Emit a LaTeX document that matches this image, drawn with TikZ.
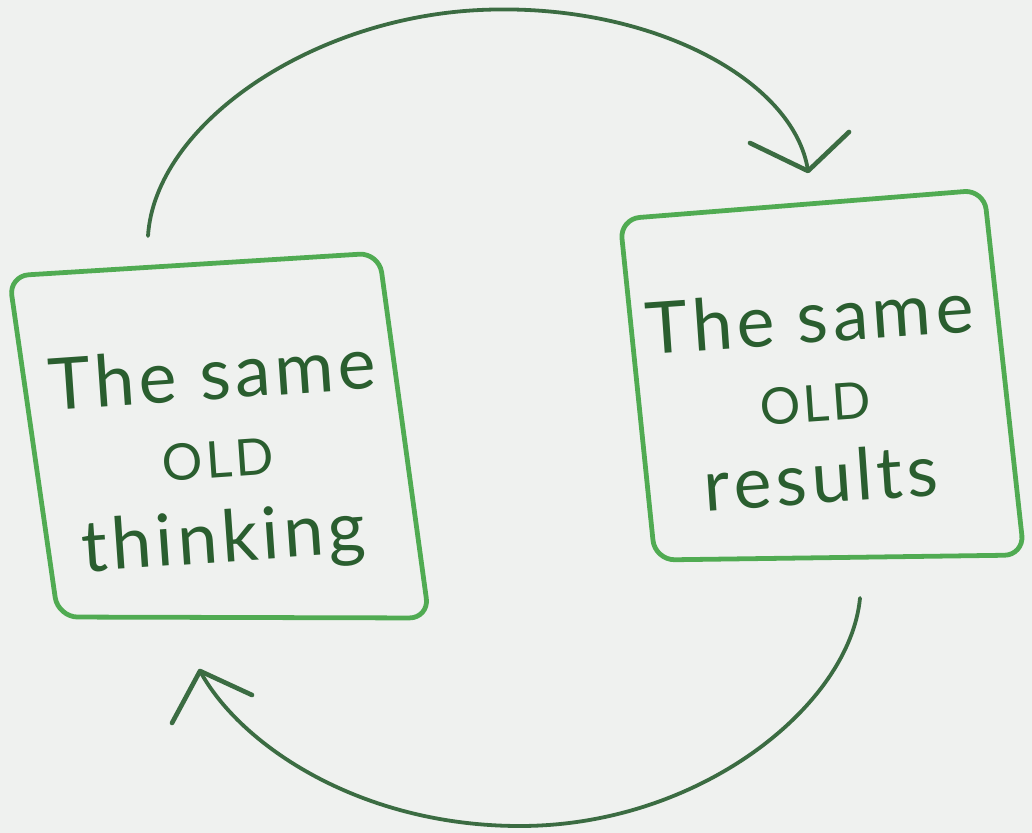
\documentclass[tikz,border=0pt]{standalone}
\usepackage{fontspec}
\setmainfont{Lato}[LetterSpace=6,Kerning=Off]
\begin{document}
\definecolor{paper}{HTML}{EFF1EF}
\definecolor{frame}{HTML}{50AB52}
\definecolor{ink}{HTML}{2A5E2F}
\definecolor{loop}{HTML}{3B6C42}
\newcommand\smallold{{\fontsize{36}{40}\selectfont OLD}}
\begin{tikzpicture}[x=0.025cm,y=-0.025cm,
  card/.style={draw=frame,line width=3.4pt,rounded corners=14pt,line join=round},
  words/.style={text=ink,rotate=4,inner sep=0pt,align=center,
    font=\fontsize{51}{56}\selectfont},
  cycle/.style={draw=loop,line width=2.7pt,line cap=round,line join=round},
  tip/.style={cycle,line width=3.3pt}]
% paper
\fill[paper] (0,0) rectangle (1032,833);
\useasboundingbox (0,0) rectangle (1032,833);

% left card
\draw[card] (9,276) -- (379,253) -- (429,618) -- (58,617) -- cycle;
\node[words] (left) at (218,461) {The same\\\smallold\\[4pt]thinking};

% right card
\draw[card] (620,219) -- (984,190) -- (1024,555) -- (655,560) -- cycle;
\node[words] (right) at (815,397) {The same\\\smallold\\[2pt]results};

% loop ends
\coordinate (a0) at (148,236);
\coordinate (a1) at (808,171);
\coordinate (a1l) at (750,143);
\coordinate (a1r) at (849,132);
\coordinate (b0) at (860,598);
\coordinate (b1) at (200,671);
\coordinate (b1l) at (172,723);
\coordinate (b1r) at (252,695);

% upper loop: thinking -> results
\draw[cycle] (a0) .. controls (155,125) and (310,18) .. (480,10)
  .. controls (650,2) and (795,80) .. (a1);
\draw[tip] (a1l) -- (a1) -- (a1r);

% lower loop: results -> thinking
\draw[cycle] (b0) .. controls (850,705) and (700,826) .. (520,826)
  .. controls (360,826) and (240,745) .. (b1);
\draw[tip] (b1l) -- (b1) -- (b1r);
\end{tikzpicture}
\end{document}
